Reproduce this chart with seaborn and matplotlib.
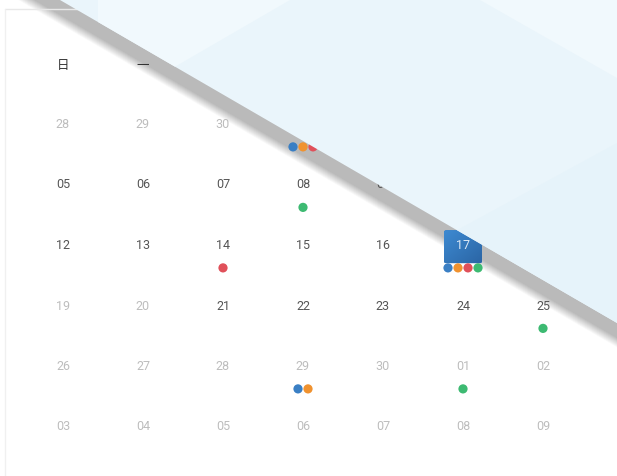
import numpy as np
import pandas as pd
import matplotlib.pyplot as plt
import seaborn as sns
from matplotlib.patches import Polygon, FancyBboxPatch

weekdays = ["日", "一", "二", "三", "四", "五", "六"]
days = [
    ["28", "29", "30", "01", "02", "03", "04"],
    ["05", "06", "07", "08", "09", "10", "11"],
    ["12", "13", "14", "15", "16", "17", "18"],
    ["19", "20", "21", "22", "23", "24", "25"],
    ["26", "27", "28", "29", "30", "01", "02"],
    ["03", "04", "05", "06", "07", "08", "09"],
]
# greyed out days as (week, weekday)
faded = [(0, 0), (0, 1), (0, 2), (3, 0), (3, 1)] + [(4, c) for c in range(7)] + [(5, c) for c in range(7)]
selected = (2, 5)
# events on each day
events = {
    (0, 3): ["blue", "orange", "red"],
    (1, 3): ["green"],
    (2, 2): ["red"],
    (2, 5): ["blue", "orange", "red", "green"],
    (3, 6): ["green"],
    (4, 3): ["blue", "orange"],
    (4, 5): ["green"],
}
event_colors = {"blue": "#3a7fc4", "orange": "#f0922f", "red": "#e0505a", "green": "#3dba72"}

# dots table
rows = []
for (w, d), kinds in events.items():
    n = len(kinds)
    for k, kind in enumerate(kinds):
        rows.append({"x": d + (k - (n - 1) / 2) * 0.125, "y": w + 1 + 0.37, "kind": kind})
dots = pd.DataFrame(rows)

sns.set_style("white")
plt.rcParams["font.family"] = ["Roboto", "Noto Sans CJK SC", "DejaVu Sans"]

fig = plt.figure(figsize=(6.17, 4.76), dpi=100)

# background: card and page shadow (pixel units)
ax0 = fig.add_axes([0, 0, 1, 1], zorder=0)
ax0.set_xlim(0, 617)
ax0.set_ylim(476, 0)
ax0.axis("off")
ax0.plot([4.5, 617], [9, 9], color="#e8e8e8", lw=1)
ax0.plot([4.5, 4.5], [9, 476], color="#f0f0f0", lw=1)
slope = 0.58
# widest (lightest) first, darker narrower bands on top
for b in np.arange(25, 0, -1):
    fade = 1.0 if b <= 15 else max(0.0, 1 - (b - 15) / 10)
    g = 1 - (1 - 0.73) * fade
    pts = [(-100, slope * (-160)), (700, slope * 640),
           (700, slope * 640 + b), (-100, slope * (-160) + b)]
    ax0.add_patch(Polygon(pts, closed=True, facecolor=(g, g, g), edgecolor="none"))

# calendar (column / row units)
ax1 = fig.add_axes([0, 0, 1, 1], zorder=1)
ax1.patch.set_alpha(0)

for c, wd in enumerate(weekdays):
    ax1.text(c, 0.02, wd, ha="center", va="center", fontsize=9, color="#333333",
             family=["Noto Sans CJK SC", "DejaVu Sans"])

w, d = selected
rw, rh = 0.475, 0.545
rect = FancyBboxPatch((d - rw / 2, w + 1 - rh / 2 + 0.02), rw, rh,
                      boxstyle="round,pad=0,rounding_size=0.03",
                      facecolor="#3277bd", edgecolor="none", zorder=2)
ax1.add_patch(rect)
c1 = np.array([0.24, 0.54, 0.82])
c2 = np.array([0.17, 0.40, 0.65])
ii, jj = np.meshgrid(np.arange(20), np.arange(20))
t = ((ii + jj) / 38.0)[..., None]
grad = c1 * (1 - t) + c2 * t
im = ax1.imshow(grad, extent=(d - rw / 2, d + rw / 2, w + 1 + rh / 2 + 0.02, w + 1 - rh / 2 + 0.02),
                aspect="auto", zorder=2.1, interpolation="bilinear")
im.set_clip_path(rect)

for wk, week in enumerate(days):
    for c, day in enumerate(week):
        if (wk, c) == selected:
            color = "#dce8f5"
        elif (wk, c) in faded:
            color = "#bdbdbd"
        else:
            color = "#555555"
        ax1.text(c, wk + 1, day, ha="center", va="center", fontsize=9, color=color, zorder=3)

sns.scatterplot(data=dots, x="x", y="y", hue="kind", palette=event_colors, s=44,
                linewidth=0, legend=False, ax=ax1, zorder=4)
ax1.set_xlim(-63 / 80, (617 - 63) / 80)
ax1.set_ylim((476 - 64) / 60.5, -64 / 60.5)
ax1.axis("off")

# turned page on top (pixel units)
ax2 = fig.add_axes([0, 0, 1, 1], zorder=2)
ax2.patch.set_alpha(0)
ax2.set_xlim(0, 617)
ax2.set_ylim(476, 0)
ax2.axis("off")
ax2.add_patch(Polygon([(60, 0), (617, 0), (617, 323)], facecolor="#eaf5fb", edgecolor="none"))
ax2.add_patch(Polygon([(98, 0), (290, 0), (175, 66.7), (98, 22)], facecolor="#f1f9fd", edgecolor="none"))
ax2.add_patch(Polygon([(480, 0), (617, 0), (617, 78)], facecolor="#f1f9fd", edgecolor="none"))
ax2.add_patch(Polygon([(617, 143), (457, 230.2), (617, 323)], facecolor="#e6f3fa", edgecolor="none"))

fig.savefig("out.png", dpi=100)
